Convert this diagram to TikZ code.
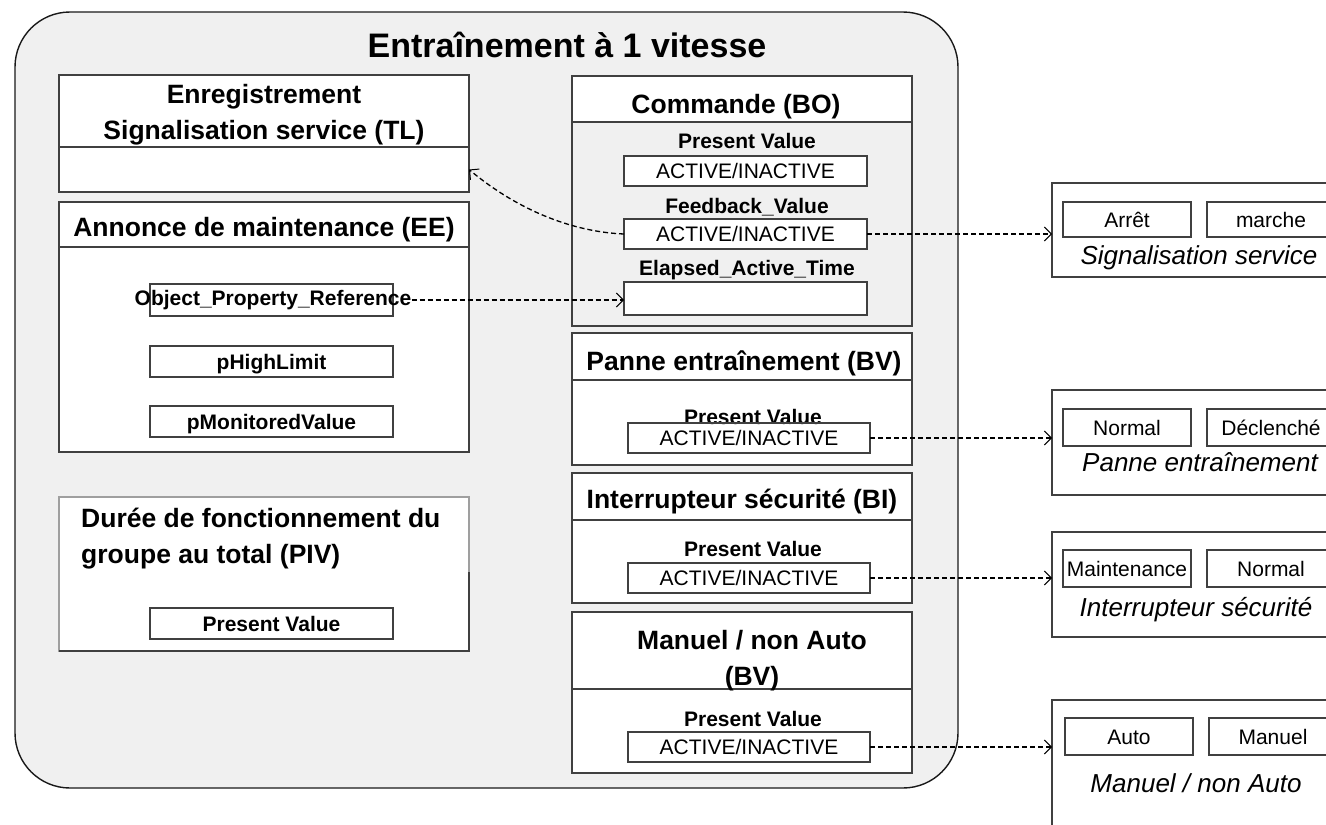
\documentclass[tikz,border=0pt]{standalone}
\usepackage{fontspec}
\setmainfont{Liberation Sans}
\usetikzlibrary{arrows.meta}
\definecolor{bgfill}{HTML}{F0F0F0}
\definecolor{bline}{HTML}{404040}
\begin{document}
\begin{tikzpicture}[x=1pt,y=-1pt,
  box/.style={draw=bline, line width=1.2pt, fill=white, inner sep=0pt, outer sep=0pt, anchor=north west},
  graybox/.style={box, fill=bgfill},
  mainbox/.style={draw=black!90, line width=1.4pt, fill=bgfill, inner sep=0pt, outer sep=0pt, anchor=north west, rounded corners=55pt},
  maintitle/.style={font=\fontsize{34}{40}\selectfont\bfseries, inner sep=0pt},
  btitle/.style={font=\fontsize{26.5}{36}\selectfont\bfseries, inner sep=0pt, align=center},
  sbold/.style={font=\fontsize{21}{24}\selectfont\bfseries, inner sep=0pt},
  regf/.style={font=\fontsize{21}{24}\selectfont, text height=15pt, text depth=0pt},
  sboldf/.style={font=\fontsize{21}{24}\selectfont\bfseries, text height=15pt, text depth=0pt},
  ital/.style={font=\fontsize{26}{30}\selectfont\itshape, inner sep=0pt},
  conn/.style={line width=1.3pt, dash pattern=on 5pt off 3pt, -{Straight Barb[length=7pt,width=14pt,line width=1pt]}}
]
\clip (0,0) rectangle (1326,825);
\fill[white] (0,0) rectangle (1326,825);

% main container
\node[mainbox, minimum width=943pt, minimum height=776pt] (main) at (15,12) {};
\node[maintitle] (title) at (567,45) {Entraînement à 1 vitesse};

% ---- left column ----
\node[box, minimum width=410pt, minimum height=72pt] (tlhead) at (59,75) {};
\node[box, minimum width=410pt, minimum height=45pt] (tlbody) at (59,147) {};
\node[btitle] (tltitle) at (264,115) {Enregistrement\\Signalisation service (TL)};

\node[box, minimum width=410pt, minimum height=45pt] (eehead) at (59,202) {};
\node[box, minimum width=410pt, minimum height=205pt] (eebody) at (59,247) {};
\node[btitle] (eetitle) at (264,230) {Annonce de maintenance (EE)};
\node[box, minimum width=243pt, minimum height=32pt] (opr) at (150,284) {};
\node[sbold] (oprtext) at (273,300) {Object\_Property\_Reference};
\node[box, sboldf, minimum width=243pt, minimum height=31pt] (phl) at (150,346) {pHighLimit};
\node[box, sboldf, minimum width=243pt, minimum height=31pt] (pmv) at (150,406) {pMonitoredValue};

\node[box, draw=bline!50, minimum width=410pt, minimum height=154pt] (piv) at (59,497) {};
\draw[bline, line width=1.2pt] (piv.north east |- 0,572) -- (piv.south east) -- (piv.south west);
\node[btitle, align=left, anchor=west] (pivtitle) at (81,539) {Durée de fonctionnement du\\groupe au total (PIV)};
\node[box, sboldf, minimum width=243pt, minimum height=31pt] (pivpv) at (150,608) {Present Value};

% ---- right column ----
\node[box, minimum width=340pt, minimum height=46pt] (cmdhead) at (572,76) {};
\node[graybox, minimum width=340pt, minimum height=204pt] (cmdbody) at (572,122) {};
\node[btitle] (cmdtitle) at (736,107) {Commande (BO)};
\node[sbold] (cmdpvl) at (747,141) {Present Value};
\node[box, regf, minimum width=243pt, minimum height=30pt] (cpv) at (624,156) {ACTIVE/INACTIVE};
\node[sbold] (cfbl) at (747,207) {Feedback\_Value};
\node[box, regf, minimum width=243pt, minimum height=30pt] (cfb) at (624,219) {ACTIVE/INACTIVE};
\node[sbold] (cell) at (747,270) {Elapsed\_Active\_Time};
\node[box, minimum width=243pt, minimum height=33pt] (cel) at (624,282) {};

\node[box, minimum width=340pt, minimum height=47pt] (panhead) at (572,333) {};
\node[box, minimum width=340pt, minimum height=85pt] (panbody) at (572,380) {};
\node[btitle] (pantitle) at (744,363) {Panne entraînement (BV)};
\node[sbold] (panpvl) at (753,417) {Present Value};
\node[box, fill=none, regf, minimum width=242pt, minimum height=30pt] (panav) at (628,423) {ACTIVE/INACTIVE};

\node[box, minimum width=340pt, minimum height=47pt] (inthead) at (572,473) {};
\node[box, minimum width=340pt, minimum height=83pt] (intbody) at (572,520) {};
\node[btitle] (inttitle) at (742,502) {Interrupteur sécurité (BI)};
\node[sbold] (intpvl) at (753,549) {Present Value};
\node[box, regf, minimum width=242pt, minimum height=30pt] (intav) at (628,563) {ACTIVE/INACTIVE};

\node[box, minimum width=340pt, minimum height=77pt] (manhead) at (572,612) {};
\node[box, minimum width=340pt, minimum height=84pt] (manbody) at (572,689) {};
\node[btitle] (mantitle) at (752,661) {Manuel / non Auto\\(BV)};
\node[sbold] (manpvl) at (753,719) {Present Value};
\node[box, regf, minimum width=242pt, minimum height=30pt] (manav) at (628,732) {ACTIVE/INACTIVE};

% ---- external boxes ----
\node[box, minimum width=290pt, minimum height=94pt] (sig) at (1052,183) {};
\node[box, regf, minimum width=128pt, minimum height=35pt] (arret) at (1063,202) {Arrêt};
\node[box, regf, minimum width=128pt, minimum height=35pt] (marche) at (1207,202) {marche};
\node[ital] (sigl) at (1199,258) {Signalisation service};

\node[box, minimum width=290pt, minimum height=105pt] (pan) at (1052,390) {};
\node[box, regf, minimum width=128pt, minimum height=37pt] (normal) at (1063,409) {Normal};
\node[box, regf, minimum width=128pt, minimum height=37pt] (decl) at (1207,409) {Déclenché};
\node[ital] (panl) at (1200,462) {Panne entraînement};

\node[box, minimum width=290pt, minimum height=105pt] (int) at (1052,532) {};
\node[box, regf, minimum width=128pt, minimum height=37pt] (maint) at (1063,550) {Maintenance};
\node[box, regf, minimum width=128pt, minimum height=37pt] (normalb) at (1207,550) {Normal};
\node[ital] (intl) at (1196,610) {Interrupteur sécurité};

\node[box, minimum width=290pt, minimum height=140pt] (man) at (1052,700) {};
\node[box, regf, minimum width=128pt, minimum height=37pt] (auto) at (1065,718) {Auto};
\node[box, regf, minimum width=128pt, minimum height=37pt] (manuel) at (1209,718) {Manuel};
\node[ital] (manl) at (1196,783) {Manuel / non Auto};

% ---- connectors ----
\draw[conn] (oprtext.east) -- (cel.west |- oprtext.east);
\draw[conn] (cfb.west) .. controls (575,232) and (520,212) .. (tlbody.east);
\draw[conn] (cfb.east) -- (sig.west |- cfb.east);
\draw[conn] (panav.east) -- (pan.west |- panav.east);
\draw[conn] (intav.east) -- (int.west |- intav.east);
\draw[conn] (manav.east) -- (man.west |- manav.east);
\end{tikzpicture}
\end{document}
